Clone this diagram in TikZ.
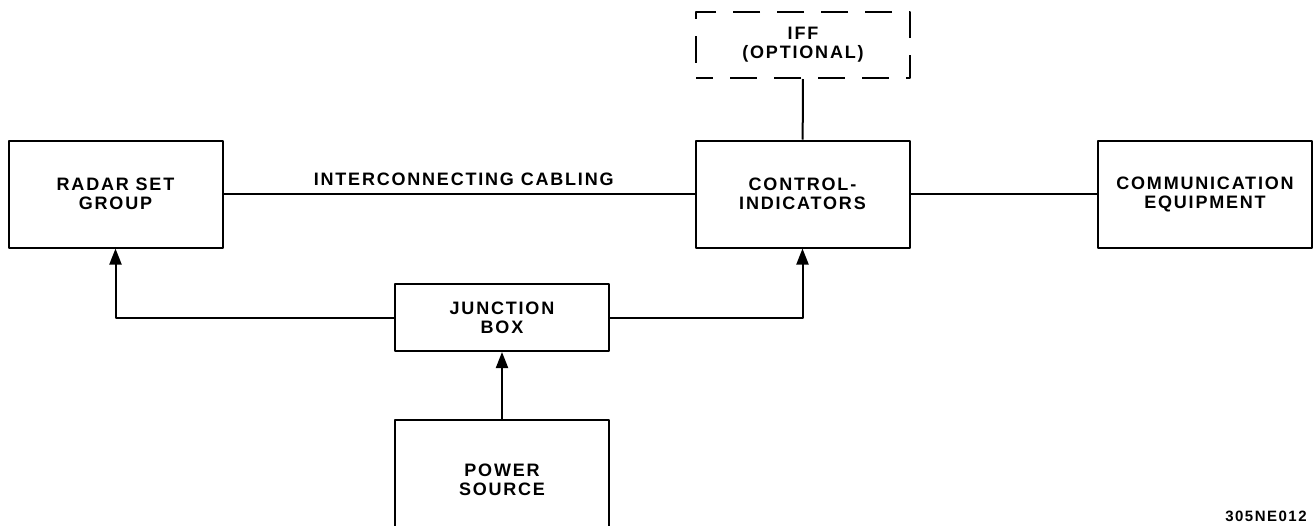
\documentclass[tikz,border=0pt]{standalone}
\usepackage{fontspec}
\usetikzlibrary{arrows.meta}
\newfontfamily\boxfont[LetterSpace=10]{Liberation Sans}
\begin{document}
\begin{tikzpicture}[x=1pt, y=-1pt, line width=2pt, line join=round, >={Triangle[length=16pt,width=12pt]},
		unit/.style={draw, inner sep=0pt, minimum width=214pt, minimum height=107pt, align=center,
			font=\boxfont\bfseries\fontsize{18}{19}\selectfont},
		optional/.style={unit, dash pattern=on 27pt off 17pt, dash phase=10pt}]
			\useasboundingbox (0,0) rectangle (1314,525);
			\node[unit] (radar) at (115.5,194) {RADAR SET\\GROUP};
			\node[unit] (ctrl) at (802.5,194) {CONTROL-\\INDICATORS};
			\node[unit] (comm) at (1205,194) {COMMUNICATION\\EQUIPMENT};
			\node[optional, minimum height=66pt] (iff) at (803,45) {IFF\\(OPTIONAL)};
			\node[unit, minimum height=67pt] (junction) at (502,317.5) {JUNCTION\\BOX};
			\node[unit, minimum height=120pt] (power) at (502,480) {POWER\\SOURCE};
			\node[font=\boxfont\bfseries\fontsize{15}{16}\selectfont, anchor=base east] (fig) at (1311,521) {305NE012};
			\draw (radar) -- node[above=4pt, pos=0.51, font=\boxfont\bfseries\fontsize{18}{19}\selectfont] (cable) {INTERCONNECTING CABLING} (ctrl);
			\draw (ctrl) -- (comm);
			\draw (iff) -- (ctrl);
			\draw[->] (junction.west) -| (radar.south);
			\draw[->] (junction.east) -| (ctrl.south);
			\draw[->] (power) -- (junction);
		\end{tikzpicture}
\end{document}
